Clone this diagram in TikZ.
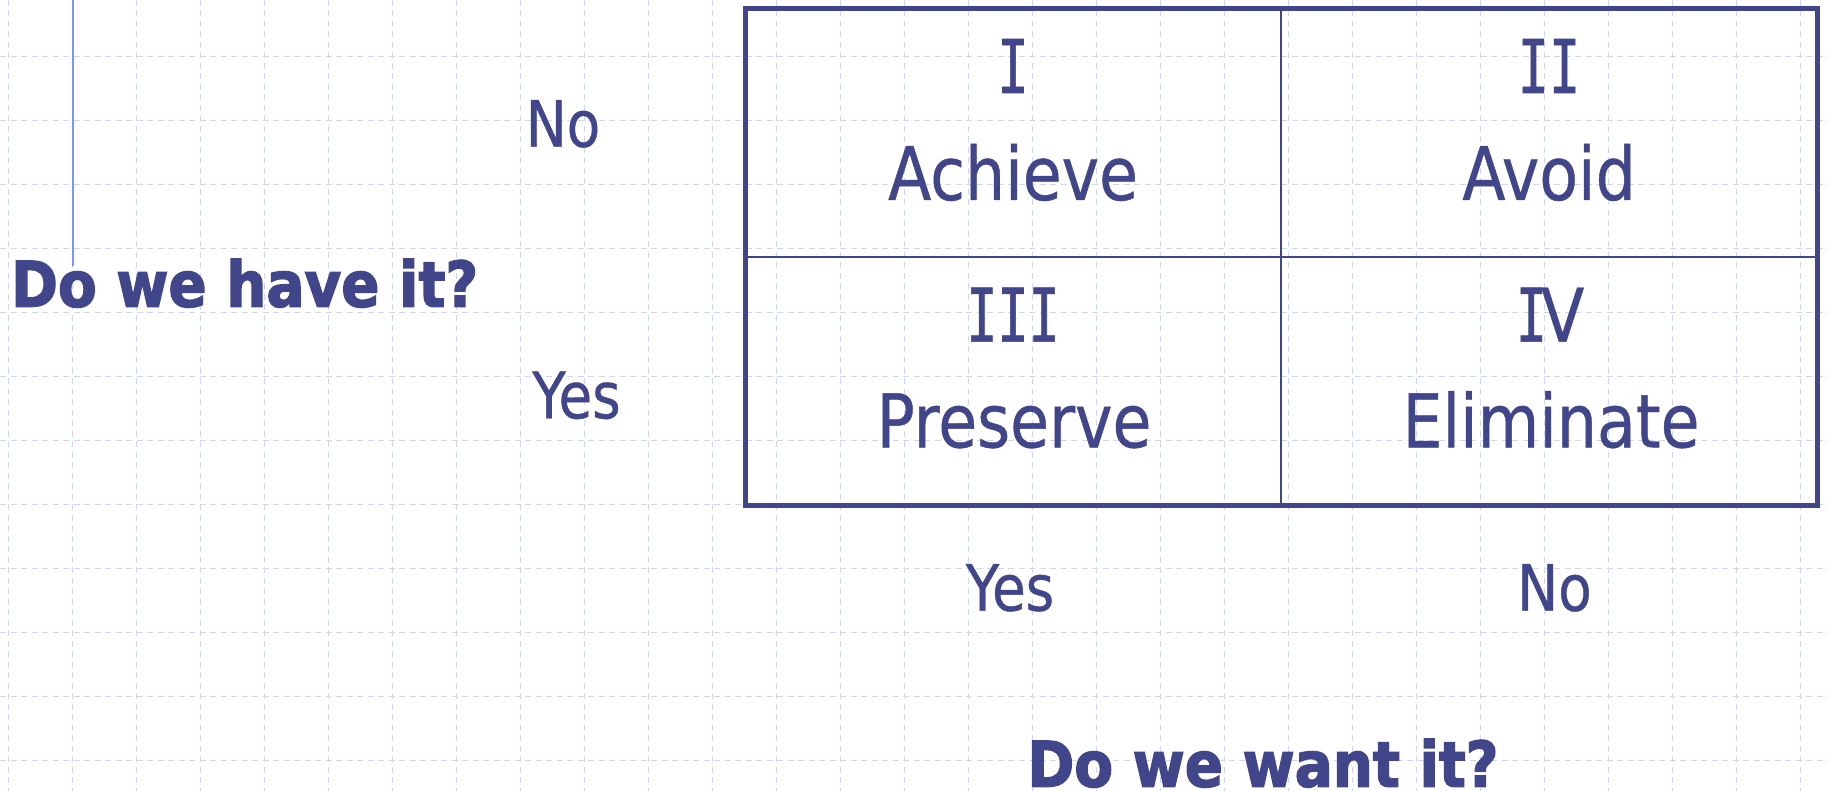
\documentclass[tikz,border=0pt]{standalone}
\usepackage{fontspec}
\newfontfamily\labfont[FakeStretch=0.855, FakeBold=0.6]{DejaVu Sans}
\newfontfamily\headfont[FakeStretch=0.895, BoldFeatures={FakeBold=2.2}]{DejaVu Sans}
\newfontfamily\numfont[FakeStretch=0.7, FakeBold=0.8]{DejaVu Sans Mono}
\definecolor{ink}{RGB}{65,69,137}
\definecolor{gridblue}{RGB}{203,214,248}
\definecolor{axisblue}{RGB}{120,152,248}
\tikzset{
  gridline/.style={gridblue, line width=1.2pt, dash pattern=on 6pt off 4.5pt},
  frame/.style={ink, line width=5pt},
  divider/.style={ink, line width=2.5pt},
  celltext/.style={ink, inner sep=0pt, anchor=base, font=\labfont\fontsize{74}{80}\selectfont},
  numtext/.style={ink, inner sep=0pt, anchor=base, font=\numfont\fontsize{74}{80}\selectfont},
  axislabel/.style={ink, inner sep=0pt, anchor=base, font=\labfont\fontsize{64}{70}\selectfont},
  question/.style={ink, inner sep=0pt, anchor=base, font=\headfont\bfseries\fontsize{63}{70}\selectfont},
}
\begin{document}
\begin{tikzpicture}[x=1pt,y=-1pt]
\useasboundingbox (0,0) rectangle (1828,791);
\fill[white] (0,0) rectangle (1828,791);

% background grid
\foreach \k in {0,...,28}
  \draw[gridline] (8.7+64*\k,0) -- (8.7+64*\k,791);
\foreach \k in {0,...,11}
  \draw[gridline] (0,56.7+64*\k) -- (1828,56.7+64*\k);

% vertical rule above the row question
\coordinate (ruletop) at (72.5,0);
\coordinate (rulebot) at (72.5,266);
\draw[axisblue, line width=2pt] (ruletop) -- (rulebot);

% the 2x2 matrix
\coordinate (nw) at (745,9);
\coordinate (se) at (1817,505);
\draw[divider] (1281,9) -- (1281,505);
\draw[divider] (745,257) -- (1817,257);
\draw[frame] (nw) rectangle (se);

% quadrant contents
\node[numtext] (q1n) at (1013,93) {I};
\node[celltext] (q1t) at (1013,200) {Achieve};
\node[numtext] (q2n) at (1549,93) {II};
\node[celltext] (q2t) at (1549,200) {Avoid};
\node[numtext] (q3n) at (1013,341.7) {III};
\node[celltext] (q3t) at (1014,447.3) {Preserve};
\node[ink, inner sep=0pt, anchor=base] (q4n) at (1550,341.7) {{\numfont\fontsize{74}{80}\selectfont I}\kern-6pt{\labfont\fontsize{74}{80}\selectfont V}};
\node[celltext] (q4t) at (1551,447.3) {Eliminate};

% row labels
\node[axislabel] (rowno) at (563,146.7) {No};
\node[axislabel] (rowyes) at (576.5,418.3) {Yes};
\node[question, anchor=base west] (rowq) at (11,306.7) {Do we have it?};

% column labels
\node[axislabel] (colyes) at (1010,610.7) {Yes};
\node[axislabel] (colno) at (1554.5,610.7) {No};
\node[question] (colq) at (1263,786.7) {Do we want it?};
\end{tikzpicture}
\end{document}
